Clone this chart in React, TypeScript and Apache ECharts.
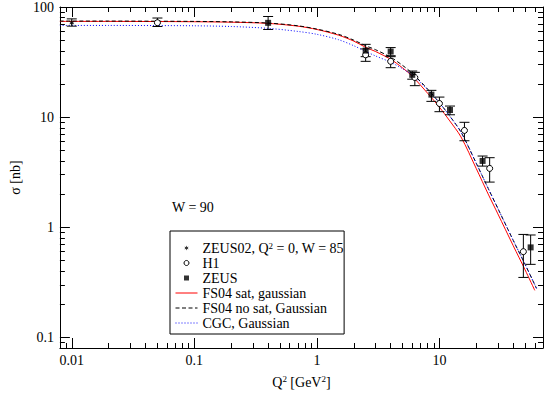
import React, { useEffect, useRef } from 'react';
import * as echarts from 'echarts';

// ---------- data ----------
const curveQ = [0.008, 0.02, 0.05, 0.1, 0.2, 0.4, 0.7, 1, 1.5, 2, 2.5, 3, 4, 5, 6, 8, 10, 12, 15, 20, 25, 30, 40, 50, 60];
const fs04Sat = [74, 74, 73.8, 73.5, 72.8, 71, 67, 62.5, 55.5, 49, 43, 39.5, 33.5, 28, 23.5, 16.5, 12.3, 9.4, 6.6, 3.4, 2.0, 1.32, 0.68, 0.41, 0.267];
const curveQLong = [0.008, 0.02, 0.05, 0.1, 0.2, 0.4, 0.7, 1, 1.5, 2, 2.5, 3, 4, 5, 6, 8, 10, 12, 15, 20, 25, 30, 40, 50, 60, 62];
const fs04NoSat = [74.5, 74.5, 74.3, 74, 73.3, 71.5, 67.5, 63, 56.5, 50, 44.5, 41, 35, 29.5, 25, 18, 13.5, 10.4, 7.3, 3.8, 2.25, 1.48, 0.76, 0.46, 0.3, 0.278];
const cgc = [68, 68, 67.8, 67.5, 66.5, 64, 60, 56.5, 50.5, 44.5, 39.5, 36, 31.5, 27.5, 24, 17.8, 13.5, 10.4, 7.3, 3.8, 2.25, 1.48, 0.76, 0.46, 0.3, 0.278];

const zeus02Q = [0.01];
const zeus02Sigma = [72];
const zeus02Lo = [67];
const zeus02Hi = [78];

const h1Q = [0.05, 2.5, 4, 6.3, 10, 16, 25.7, 48.4];
const h1Sigma = [72, 36.8, 32.1, 22.9, 13.3, 7.57, 3.42, 0.6];
const h1Lo = [66.5, 32.1, 28.1, 19.3, 11.2, 6.1, 2.57, 0.35];
const h1Hi = [79.4, 41.6, 35.4, 25.5, 15.2, 8.97, 4.28, 0.86];

const zeusQ = [0.4, 2.5, 4, 6, 8.6, 12.2, 22.5, 55.5];
const zeusSigma = [71.8, 40.2, 39.4, 24.2, 16.0, 11.6, 4.0, 0.656];
const zeusLo = [62.5, 35.4, 36.1, 22.1, 13.9, 10.5, 3.59, 0.46];
const zeusHi = [82, 45.8, 42.8, 26.2, 17.5, 12.6, 4.43, 0.85];

const xMajor = [0.01, 0.1, 1, 10];
const xMajorLabels = ['0.01', '0.1', '1', '10'];
const xMinor = [0.009, 0.02, 0.03, 0.04, 0.05, 0.06, 0.07, 0.08, 0.09, 0.2, 0.3, 0.4, 0.5, 0.6, 0.7, 0.8, 0.9, 2, 3, 4, 5, 6, 7, 8, 9, 20, 30, 40, 50, 60, 70];
const yMajor = [0.1, 1, 10, 100];
const yMajorLabels = ['0.1', '1', '10', '100'];
const yMinor = [0.09, 0.2, 0.3, 0.4, 0.5, 0.6, 0.7, 0.8, 0.9, 2, 3, 4, 5, 6, 7, 8, 9, 20, 30, 40, 50, 60, 70, 80, 90];

const NAME_ZEUS02 = 'ZEUS02, Q2 = 0, W = 85';
const NAME_H1 = 'H1';
const NAME_ZEUS = 'ZEUS';
const NAME_SAT = 'FS04 sat, gaussian';
const NAME_NOSAT = 'FS04 no sat, Gaussian';
const NAME_CGC = 'CGC, Gaussian';

const FONT = 'Liberation Serif';

// small six-spoke star for the ZEUS02 marker
const starPath = (() => {
  const pts: string[] = [];
  for (let i = 0; i < 12; i++) {
    const r = i % 2 === 0 ? 10 : 4.5;
    const a = (Math.PI / 6) * i - Math.PI / 2;
    pts.push(`${(10 + r * Math.cos(a)).toFixed(2)} ${(10 + r * Math.sin(a)).toFixed(2)}`);
  }
  return 'path://M' + pts.join(' L') + ' Z';
})();
const squarePath = 'path://M0 0 L10 0 L10 10 L0 10 Z';

const labelFor = (vals: number[], labels: string[]) => (v: number) => {
  for (let i = 0; i < vals.length; i++) {
    if (Math.abs(Math.log10(v) - Math.log10(vals[i])) < 1e-6) return labels[i];
  }
  return '';
};

function errorSeries(q: number[], lo: number[], hi: number[]) {
  return {
    type: 'custom',
    xAxisIndex: 0,
    yAxisIndex: 0,
    silent: true,
    z: 3,
    data: q.map((x, i) => [x, lo[i], hi[i]]),
    encode: { x: 0, y: [1, 2] },
    renderItem: (_p: any, api: any) => {
      const x = api.value(0);
      const top = api.coord([x, api.value(2)]);
      const bot = api.coord([x, api.value(1)]);
      const w = 5;
      const style = { stroke: '#000', lineWidth: 1, fill: 'none' };
      return {
        type: 'group',
        children: [
          { type: 'line', shape: { x1: top[0], y1: top[1], x2: bot[0], y2: bot[1] }, style },
          { type: 'line', shape: { x1: top[0] - w, y1: top[1], x2: top[0] + w, y2: top[1] }, style },
          { type: 'line', shape: { x1: bot[0] - w, y1: bot[1], x2: bot[0] + w, y2: bot[1] }, style },
        ],
      };
    },
  };
}

function logAxis(kind: 'x' | 'y', position: string, major: boolean, labels: boolean) {
  const isX = kind === 'x';
  const vals = major ? (isX ? xMajor : yMajor) : (isX ? xMinor : yMinor);
  return {
    type: 'log',
    logBase: 10,
    min: isX ? 0.008 : 0.08,
    max: isX ? 70 : 100,
    position,
    splitLine: { show: false },
    minorTick: { show: false },
    axisLine: { show: major, lineStyle: { color: '#000', width: 1 } },
    axisTick: {
      show: true,
      inside: true,
      length: major ? 10 : 5,
      customValues: vals,
      lineStyle: { color: '#000', width: 1 },
    },
    axisLabel: labels
      ? {
          show: true,
          customValues: isX ? xMajor : yMajor,
          formatter: isX ? labelFor(xMajor, xMajorLabels) : labelFor(yMajor, yMajorLabels),
          color: '#000',
          fontFamily: FONT,
          fontSize: 14,
          margin: isX ? 5 : 6,
        }
      : { show: false },
    ...(labels
      ? isX
        ? {
            name: '{n|Q}{s|2}{n| [GeV}{s|2}{n|]}',
            nameLocation: 'middle',
            nameGap: 26,
            nameTextStyle: {
              rich: {
                n: { fontFamily: FONT, fontSize: 14, color: '#000', lineHeight: 16 },
                s: { fontFamily: FONT, fontSize: 9, color: '#000', verticalAlign: 'top', lineHeight: 9 },
              },
            },
          }
        : {
            name: 'σ [nb]',
            nameLocation: 'middle',
            nameGap: 17,
            nameTextStyle: { fontFamily: FONT, fontSize: 14, color: '#000' },
          }
      : {}),
  };
}

const hiddenDot = { color: 'transparent', borderColor: 'transparent', borderWidth: 0 };

export default function App() {
  const ref = useRef<HTMLDivElement>(null);
  useEffect(() => {
    if (!ref.current) return;
    const chart = echarts.init(ref.current, undefined, { renderer: 'svg' });
    const option: any = {
      animation: false,
      backgroundColor: '#fff',
      textStyle: { fontFamily: FONT, color: '#000' },
      grid: { left: 44, right: 2, top: 6, bottom: 39, containLabel: false },
      xAxis: [
        logAxis('x', 'bottom', true, true),
        logAxis('x', 'bottom', false, false),
        logAxis('x', 'top', true, false),
        logAxis('x', 'top', false, false),
      ],
      yAxis: [
        logAxis('y', 'left', true, true),
        logAxis('y', 'left', false, false),
        logAxis('y', 'right', true, false),
        logAxis('y', 'right', false, false),
      ],
      legend: {
        orient: 'vertical',
        left: 170,
        top: 231,
        padding: [10, 0, 4, 5],
        borderColor: '#000',
        borderWidth: 1,
        backgroundColor: '#fff',
        itemWidth: 22,
        itemHeight: 5,
        itemGap: 1,
        symbolKeepAspect: true,
        selectedMode: false,
        lineStyle: { width: 1 },
        itemStyle: { borderWidth: 1 },
        data: [
          { name: NAME_ZEUS02 },
          { name: NAME_H1 },
          { name: NAME_ZEUS },
          { name: NAME_SAT, itemStyle: hiddenDot },
          { name: NAME_NOSAT, itemStyle: hiddenDot },
          { name: NAME_CGC, itemStyle: hiddenDot },
        ],
        formatter: (name: string) =>
          name === NAME_ZEUS02 ? '{n|ZEUS02, Q}{s|2}{n| = 0, W = 85}' : '{n|' + name + '}',
        textStyle: {
          fontFamily: FONT,
          fontSize: 14,
          color: '#000',
          lineHeight: 14,
          rich: {
            n: { fontFamily: FONT, fontSize: 14, color: '#000', lineHeight: 14 },
            s: { fontFamily: FONT, fontSize: 9, color: '#000', verticalAlign: 'top', lineHeight: 8 },
          },
        },
      },
      graphic: [
        {
          type: 'text',
          left: 172,
          top: 200,
          style: { text: 'W = 90', fontFamily: FONT, fontSize: 14, fill: '#000' },
        },
      ],
      series: [
        {
          name: NAME_SAT,
          type: 'line',
          xAxisIndex: 0,
          yAxisIndex: 0,
          data: curveQ.map((q, i) => [q, fs04Sat[i]]),
          showSymbol: false,
          symbol: 'none',
          smooth: 0.3,
          lineStyle: { color: '#ff0000', width: 1 },
          itemStyle: { color: '#ff0000' },
          z: 2,
        },
        {
          name: NAME_NOSAT,
          type: 'line',
          xAxisIndex: 0,
          yAxisIndex: 0,
          data: curveQLong.map((q, i) => [q, fs04NoSat[i]]),
          showSymbol: false,
          symbol: 'none',
          smooth: 0.3,
          lineStyle: { color: '#000', width: 1, type: [4, 2.5] },
          itemStyle: { color: '#000' },
          z: 2,
        },
        {
          name: NAME_CGC,
          type: 'line',
          xAxisIndex: 0,
          yAxisIndex: 0,
          data: curveQLong.map((q, i) => [q, cgc[i]]),
          showSymbol: false,
          symbol: 'none',
          smooth: 0.3,
          lineStyle: { color: '#0000ff', width: 1, type: [1, 2] },
          itemStyle: { color: '#0000ff' },
          z: 2,
        },
        errorSeries(zeus02Q, zeus02Lo, zeus02Hi),
        errorSeries(h1Q, h1Lo, h1Hi),
        errorSeries(zeusQ, zeusLo, zeusHi),
        {
          name: NAME_ZEUS02,
          type: 'scatter',
          xAxisIndex: 0,
          yAxisIndex: 0,
          symbol: starPath,
          symbolSize: 6,
          symbolKeepAspect: true,
          data: zeus02Q.map((q, i) => [q, zeus02Sigma[i]]),
          itemStyle: { color: '#000' },
          z: 4,
        },
        {
          name: NAME_H1,
          type: 'scatter',
          xAxisIndex: 0,
          yAxisIndex: 0,
          symbol: 'circle',
          symbolSize: 6,
          data: h1Q.map((q, i) => [q, h1Sigma[i]]),
          itemStyle: { color: '#fff', borderColor: '#000', borderWidth: 1, opacity: 1 },
          z: 4,
        },
        {
          name: NAME_ZEUS,
          type: 'scatter',
          xAxisIndex: 0,
          yAxisIndex: 0,
          symbol: squarePath,
          symbolSize: 6,
          symbolKeepAspect: true,
          data: zeusQ.map((q, i) => [q, zeusSigma[i]]),
          itemStyle: { color: '#000' },
          z: 4,
        },
      ],
    };
    chart.setOption(option);
    return () => chart.dispose();
  }, []);
  return (
    <div
      ref={ref}
      style={{ position: 'absolute', left: 0, top: 0, width: 545, height: 394, background: '#fff' }}
    />
  );
}
